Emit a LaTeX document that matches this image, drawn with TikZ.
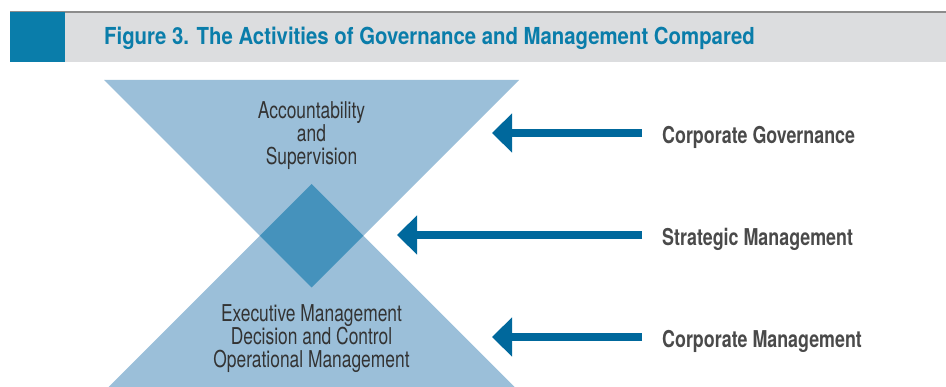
\documentclass[tikz,border=0pt]{standalone}
\usepackage{fontspec}
\usetikzlibrary{arrows.meta}
\newfontfamily\condlight[FakeStretch=0.75]{TeX Gyre Heros}
\newfontfamily\condbold[FakeStretch=0.77]{TeX Gyre Heros}
\newfontfamily\titlefont[FakeStretch=0.87]{TeX Gyre Heros}
\definecolor{triblue}{HTML}{9BBFD9}
\definecolor{diablue}{HTML}{4592BC}
\definecolor{arrblue}{HTML}{00689C}
\definecolor{headblue}{HTML}{0A7DAA}
\definecolor{bandgray}{HTML}{DCDDDF}
\definecolor{linegray}{HTML}{8C8C8C}
\definecolor{txtgray}{HTML}{333333}
\definecolor{lblgray}{HTML}{4A4A4A}
\tikzset{
  bodytext/.style={font=\condlight\fontsize{23.2}{23.4}\selectfont, text=txtgray, align=center, inner sep=0pt, anchor=base},
  lbl/.style={font=\condbold\bfseries\fontsize{23.2}{26}\selectfont, text=lblgray, anchor=base west, inner xsep=20pt, inner ysep=0pt},
  arr/.style={draw=arrblue, line width=8pt, -{Triangle[length=20pt,width=38pt]}},
}
\begin{document}
\begin{tikzpicture}[x=1pt,y=-1pt]
\useasboundingbox (0,0) rectangle (946,387);
% header
\fill[bandgray] (10,12) rectangle (946,62);
\draw[linegray, line width=1.5pt] (10,12) -- (946,12);
\fill[headblue] (10,12) rectangle (65,62);
\node[anchor=base west, inner sep=0pt, font=\titlefont\bfseries\fontsize{23.4}{28}\selectfont, text=headblue] (title) at (104,45) {Figure 3. The Activities of Governance and Management Compared};
% triangles
\fill[triblue] (104,80) -- (519,80) -- (311.5,287.5) -- cycle;
\fill[triblue] (108.5,387) -- (514.5,387) -- (311.5,184) -- cycle;
\fill[diablue] (311.5,184) -- (363.25,235.75) -- (311.5,287.5) -- (259.75,235.75) -- cycle;
% texts (base anchor = baseline of last line)
\node[bodytext] (top) at (311.5,165) {Accountability\\and\\Supervision};
\node[bodytext] (bot) at (311.5,368) {Executive Management\\Decision and Control\\Operational Management};
% labels
\node[lbl] (cg) at (642,143.3) {Corporate Governance};
\node[lbl] (sm) at (642,245.3) {Strategic Management};
\node[lbl] (cm) at (642,347.3) {Corporate Management};
\coordinate (t1) at (492,133);
\coordinate (t2) at (397,235);
\coordinate (t3) at (492,337);
\draw[arr] (cg.west |- t1) -- (t1);
\draw[arr] (sm.west |- t2) -- (t2);
\draw[arr] (cm.west |- t3) -- (t3);
\end{tikzpicture}
\end{document}
